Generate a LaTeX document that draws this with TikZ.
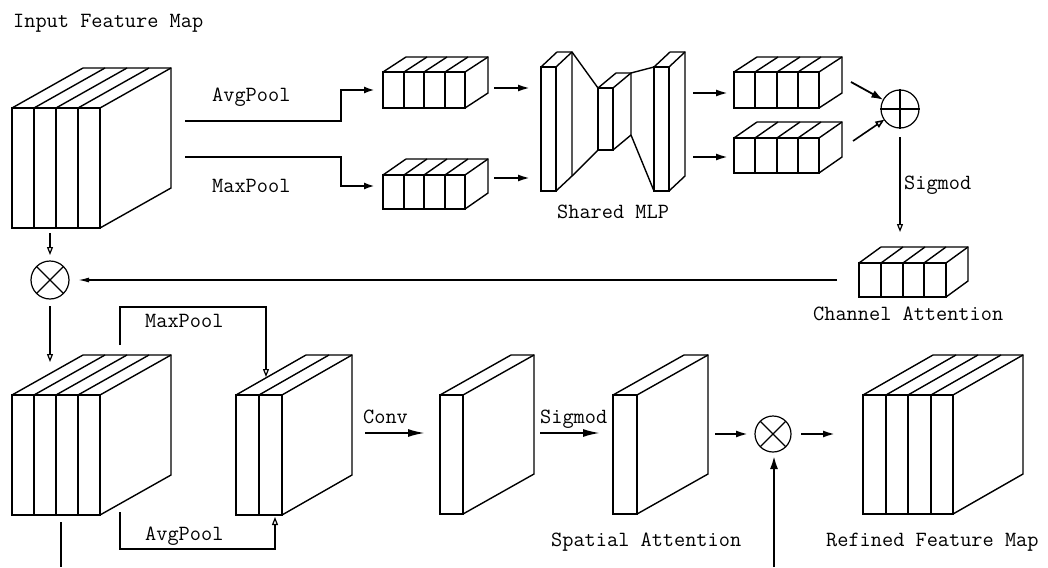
\documentclass[tikz,border=0pt]{standalone}
\usepackage{fontspec}
\usetikzlibrary{arrows.meta,calc}

% Feature-map block drawn as a prism:
% #1 name, #2 x, #3 y (front top-left), #4 strip width, #5 strips,
% #6 height, #7 depth dx, #8 depth dy
\newcommand\fblock[8]{%
  \node[blockface, minimum width={(#4)*(#5)*1pt}, minimum height={(#6)*1pt}] (#1) at (#2,#3) {};
  \foreach \i in {0,...,#5} {\draw[blk] ({round(#2+\i*#4)},{#3}) -- ++({#7},{#8});}
  \ifnum#5>1
    \pgfmathtruncatemacro\lastdiv{#5-1}%
    \foreach \i in {1,...,\lastdiv} {\draw[blk] ({round(#2+\i*#4)},{#3}) -- ++(0,{#6});}
  \fi
  \draw[blk] ({#2+#7},{#3+(#8)}) -- ({#2+#4*#5+#7},{#3+(#8)}) -- ++(0,{#6}) -- ({#2+#4*#5},{#3+#6});
}

\begin{document}
\begin{tikzpicture}[x=1pt,y=-1pt,line join=miter,
  blk/.style={line width=1.4pt},
  blockface/.style={draw,line width=1.4pt,inner sep=0pt,outer sep=0pt,anchor=north west},
  opnode/.style={draw,circle,line width=1.2pt,inner sep=0pt,outer sep=0pt},
  lbl/.style={font=\ttfamily\fontsize{21.7}{24}\selectfont,inner sep=0pt,anchor=base west},
  poolline/.style={line width=2.8pt,-{Latex[length=11pt,width=7pt]}},
  arr/.style={line width=2pt,-{Latex[length=12pt,width=7pt]}},
  bigarr/.style={line width=2pt,-{Latex[length=17pt,width=8pt]}},
  thinarr/.style={line width=1.4pt,-{Latex[length=11pt,width=5pt]}},
  openarr/.style={line width=1.2pt,-{Triangle[open,length=8pt,width=6pt]}},
  openbig/.style={line width=1.6pt,-{Triangle[open,length=9pt,width=7pt]}},
  thickarr/.style={line width=2.6pt,-{Latex[length=14pt,width=8pt]}}]

\fill[white] (0,0) rectangle (1048,567);
\useasboundingbox (0,0) rectangle (1048,567);

% ---------- channel attention branch ----------
\fblock{in}{12}{108}{22}{4}{120}{71}{-40}
\fblock{avg}{383}{72}{20.5}{4}{36}{23}{-15}
\fblock{maxs}{383}{175}{20.5}{4}{34}{23}{-16}

% shared MLP
\fblock{mlpa}{541}{67}{15}{1}{124}{16}{-15}
\fblock{mlpb}{598}{88}{15}{1}{62}{18}{-15}
\fblock{mlpc}{654}{67}{15}{1}{124}{16}{-15}
\draw[blk] ($(mlpa.north east)+(16,-15)$) -- (mlpb.north west);
\draw[blk] ($(mlpa.south east)+(16,-15)$) -- (mlpb.south west);
\draw[blk] ($(mlpb.north east)+(18,-15)$) -- (mlpc.north west);
\draw[blk] ($(mlpb.south east)+(18,-15)$) -- (mlpc.south west);

\fblock{cha}{734}{72}{21.25}{4}{36}{23}{-15}
\fblock{chb}{734}{138}{21.25}{4}{35}{23}{-16}
\fblock{ca}{859}{263}{21.75}{4}{34}{22}{-16}

\node[opnode,minimum size=38pt] (plus) at (900,109) {};
\draw[line width=1.2pt] ([xshift=-1pt]plus.west) -- ([xshift=1pt]plus.east)
  ([yshift=1pt]plus.north) -- ([yshift=-1pt]plus.south);

\node[opnode,minimum size=38pt] (mula) at (50,280) {};
\draw[line width=1.2pt] (mula.north west) -- (mula.south east)
  (mula.north east) -- (mula.south west);

% ---------- spatial attention branch ----------
\fblock{mid}{12}{395}{22}{4}{120}{71}{-40}
\fblock{pool}{236}{395}{23}{2}{120}{70}{-40}
\fblock{conv}{440}{395}{23}{1}{119}{71}{-40}
\fblock{sa}{613}{395}{24}{1}{119}{71}{-40}
\fblock{out}{863}{395}{22.5}{4}{119}{70}{-40}

\node[opnode,minimum size=36pt] (mulb) at (773,434) {};
\draw[line width=1.2pt] (mulb.north west) -- (mulb.south east)
  (mulb.north east) -- (mulb.south west);

% ---------- connectors ----------
\coordinate (pa) at (185,121);
\coordinate (pm) at (185,157);
\draw[poolline,shorten >=8pt] (pa) -- ++(156,0) |- (avg.west);
\draw[poolline,shorten >=8pt] (pm) -- ++(156,0) |- ([yshift=6pt]maxs.west);

\draw[arr,shorten <=29pt,shorten >=11pt] ([yshift=2pt]avg.east) -- ([yshift=2pt]avg.east -| mlpa.west);
\draw[arr,shorten <=29pt,shorten >=11pt] ([yshift=14pt]maxs.east) -- ([yshift=14pt]maxs.east -| mlpa.west);

\draw[arr,shorten <=24pt,shorten >=6pt] ([yshift=-3pt]cha.west -| mlpc.east) -- ([yshift=-3pt]cha.west);
\draw[arr,shorten <=24pt,shorten >=6pt] ([yshift=-1.5pt]chb.west -| mlpc.east) -- ([yshift=-1.5pt]chb.west);

\coordinate (sa1) at (851,82);
\coordinate (sa2) at (853,141);
\draw[line width=1.8pt,-{Latex[length=12pt,width=8pt]}] (sa1) -- (plus);
\draw[openbig] (sa2) -- (plus);

\draw[openarr,shorten <=9pt,shorten >=31pt] (plus.south) -- (plus.south |- ca.north);

\draw[thinarr,shorten <=22pt,shorten >=9pt] (ca.west) -- (mula.east);

\draw[openarr,shorten <=5pt,shorten >=6pt] (mula.north |- in.south) -- (mula.north);
\draw[openarr,shorten <=7pt,shorten >=33pt] (mula.south) -- (mula.south |- mid.north);

\coordinate (mp) at (120,345);
\coordinate (ap) at (120,512);
\draw[openarr,shorten >=18pt] (mp) -- (120,307) -| ([xshift=7pt]pool.north);
\draw[openarr,shorten >=2pt] (ap) -- (120,549) -| ([xshift=16pt]pool.south);

\coordinate (tail) at (61,522);
\draw[line width=1.4pt] (tail) -- (61,567);

\coordinate (cv) at (365,433);
\coordinate (sg) at (540,433);
\draw[bigarr,shorten >=15pt] (cv) -- (cv -| conv.west);
\draw[bigarr,shorten >=13pt] (sg) -- (sg -| sa.west);

\draw[arr,shorten <=78pt,shorten >=7pt] (sa.east |- mulb.west) -- (mulb.west);
\draw[arr,shorten <=10pt,shorten >=28pt] (mulb.east) -- (mulb.east -| out.west);

\coordinate (low) at (774,567);
\draw[thickarr,shorten >=3pt] (low) -- (low |- mulb.south);

% ---------- labels ----------
\node[lbl] (tIn)  at (13,28)   {Input Feature Map};
\node[lbl] (tAvg) at (212,102) {AvgPool};
\node[lbl] (tMax) at (212,192) {MaxPool};
\node[lbl] (tMLP) at (557,218) {Shared MLP};
\node[lbl] (tSg1) at (904,189) {Sigmod};
\node[lbl] (tCA)  at (813,320) {Channel Attention};
\node[lbl] (tMx2) at (145,327) {MaxPool};
\node[lbl] (tAv2) at (145,540) {AvgPool};
\node[lbl] (tCv)  at (363,423) {Conv};
\node[lbl] (tSg2) at (540,423) {Sigmod};
\node[lbl] (tSA)  at (551,546) {Spatial Attention};
\node[lbl] (tRF)  at (826,546) {Refined Feature Map};
\end{tikzpicture}
\end{document}
